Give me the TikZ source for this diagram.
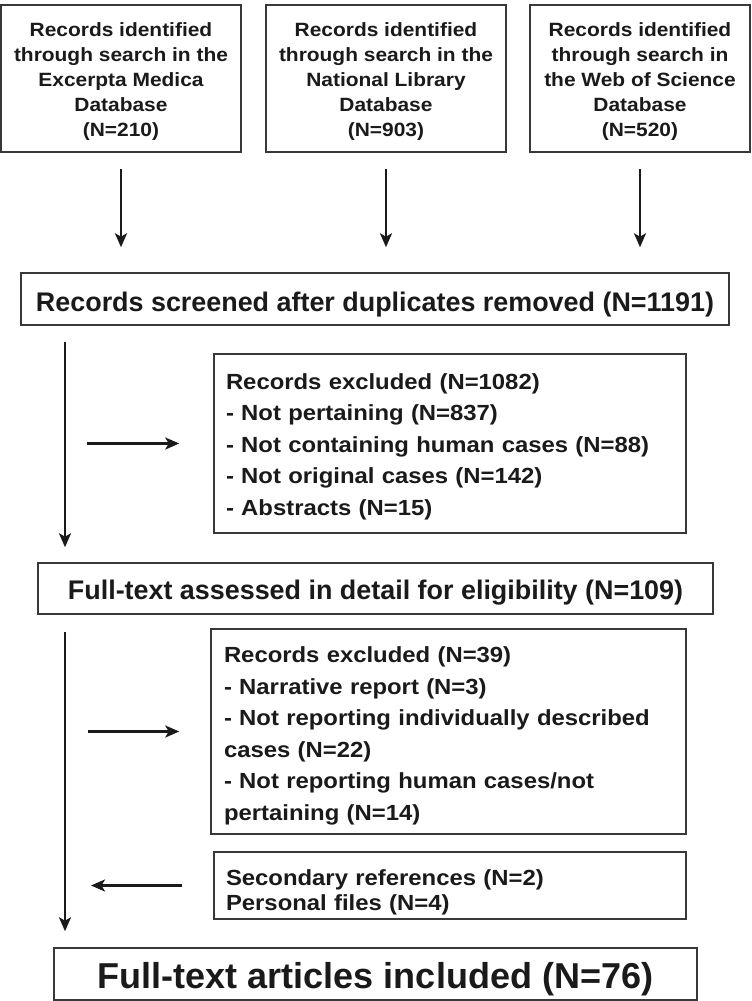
\documentclass[tikz,border=0pt]{standalone}
\usepackage{fontspec}
\setmainfont{Liberation Sans}
\newfontfamily\widefont[FakeStretch=1.09]{Liberation Sans}
\usetikzlibrary{arrows.meta,calc}
\definecolor{ink}{HTML}{1A1A1A}
\definecolor{frame}{HTML}{383838}
\tikzset{
  box/.style={draw=frame, line width=1.5pt, inner sep=0pt, text=ink},
  arr/.style={draw=ink, line width=2.5pt, -{Stealth[length=14pt,width=12pt,inset=3.5pt]}},
  topf/.style={font=\widefont\bfseries\fontsize{19.2}{25}\selectfont},
  exf/.style={font=\widefont\bfseries\fontsize{21.9}{31.5}\selectfont},
  secf/.style={font=\widefont\bfseries\fontsize{21.9}{25}\selectfont},
  bigf/.style={font=\bfseries\fontsize{26.9}{30}\selectfont},
  hugef/.style={font=\bfseries\fontsize{36}{40}\selectfont},
}
\begin{document}
\begin{tikzpicture}[x=1pt,y=-1pt]
\useasboundingbox (0,0) rectangle (752,1001);
\fill[white] (0,0) rectangle (752,1001);

% top boxes
\node[box, topf, align=center, minimum width=240pt, minimum height=147pt] (b1) at (121,78.5)
  {\rule{0pt}{19pt}Records identified\\through search in the\\Excerpta Medica\\Database\\(N=210)};
\node[box, topf, align=center, minimum width=240pt, minimum height=147pt] (b2) at (386,78.5)
  {\rule{0pt}{19pt}Records identified\\through search in the\\National Library\\Database\\(N=903)};
\node[box, topf, align=center, minimum width=220pt, minimum height=147pt] (b3) at (640,78.5)
  {\rule{0pt}{19pt}Records identified\\through search in\\the Web of Science\\Database\\(N=520)};

% screened
\node[box, bigf, minimum width=708pt, minimum height=52pt] (scr) at (375,299)
  {\rule{0pt}{31pt}Records screened after duplicates removed (N=1191)};

% excluded 1
\node[box, exf, align=left, text width=448pt, inner xsep=12pt, minimum height=179pt] (ex1) at (450,443.5)
  {\rule{0pt}{21.6pt}Records excluded (N=1082)\\- Not pertaining (N=837)\\- Not containing human cases (N=88)\\- Not original cases (N=142)\\- Abstracts (N=15)};

% full-text assessed
\node[box, bigf, minimum width=675pt, minimum height=51pt] (ft) at (375.5,588.5)
  {\rule{0pt}{28.6pt}Full-text assessed in detail for eligibility (N=109)};

% excluded 2
\node[box, exf, align=left, text width=449pt, inner xsep=13pt, minimum height=205pt] (ex2) at (448.5,731.5)
  {\rule{0pt}{25pt}Records excluded (N=39)\\- Narrative report (N=3)\\- Not reporting individually described\\cases (N=22)\\- Not reporting human cases/not\\pertaining (N=14)};

% secondary references
\node[box, secf, align=left, text width=448pt, inner xsep=12pt, minimum height=67pt] (sec) at (450,885.5)
  {\rule{0pt}{28.6pt}Secondary references (N=2)\\Personal files (N=4)};

% final
\node[box, hugef, minimum width=643pt, minimum height=52pt] (fin) at (375.5,974)
  {\rule{0pt}{36.3pt}Full-text articles included (N=76)};

% connectors
\coordinate (spine) at (65,0);
\draw[arr, shorten <=16pt, shorten >=25pt] (b1.south) -- (b1.south |- scr.north);
\draw[arr, shorten <=16pt, shorten >=25pt] (b2.south) -- (b2.south |- scr.north);
\draw[arr, shorten <=16pt, shorten >=25pt] (b3.south) -- (b3.south |- scr.north);
\draw[arr, shorten <=16pt, shorten >=15pt] (spine |- scr.south) -- (spine |- ft.north);
\draw[arr, shorten <=17pt, shorten >=16pt] (spine |- ft.south) -- (spine |- fin.north);
\draw[arr, shorten >=34pt] ($(spine |- ex1.west)+(22,0)$) -- (ex1.west);
\draw[arr, shorten >=31pt] ($(spine |- ex2.west)+(23,0)$) -- (ex2.west);
\draw[arr, shorten <=31pt] (sec.west) -- ($(spine |- sec.west)+(26,0)$);
\end{tikzpicture}
\end{document}
